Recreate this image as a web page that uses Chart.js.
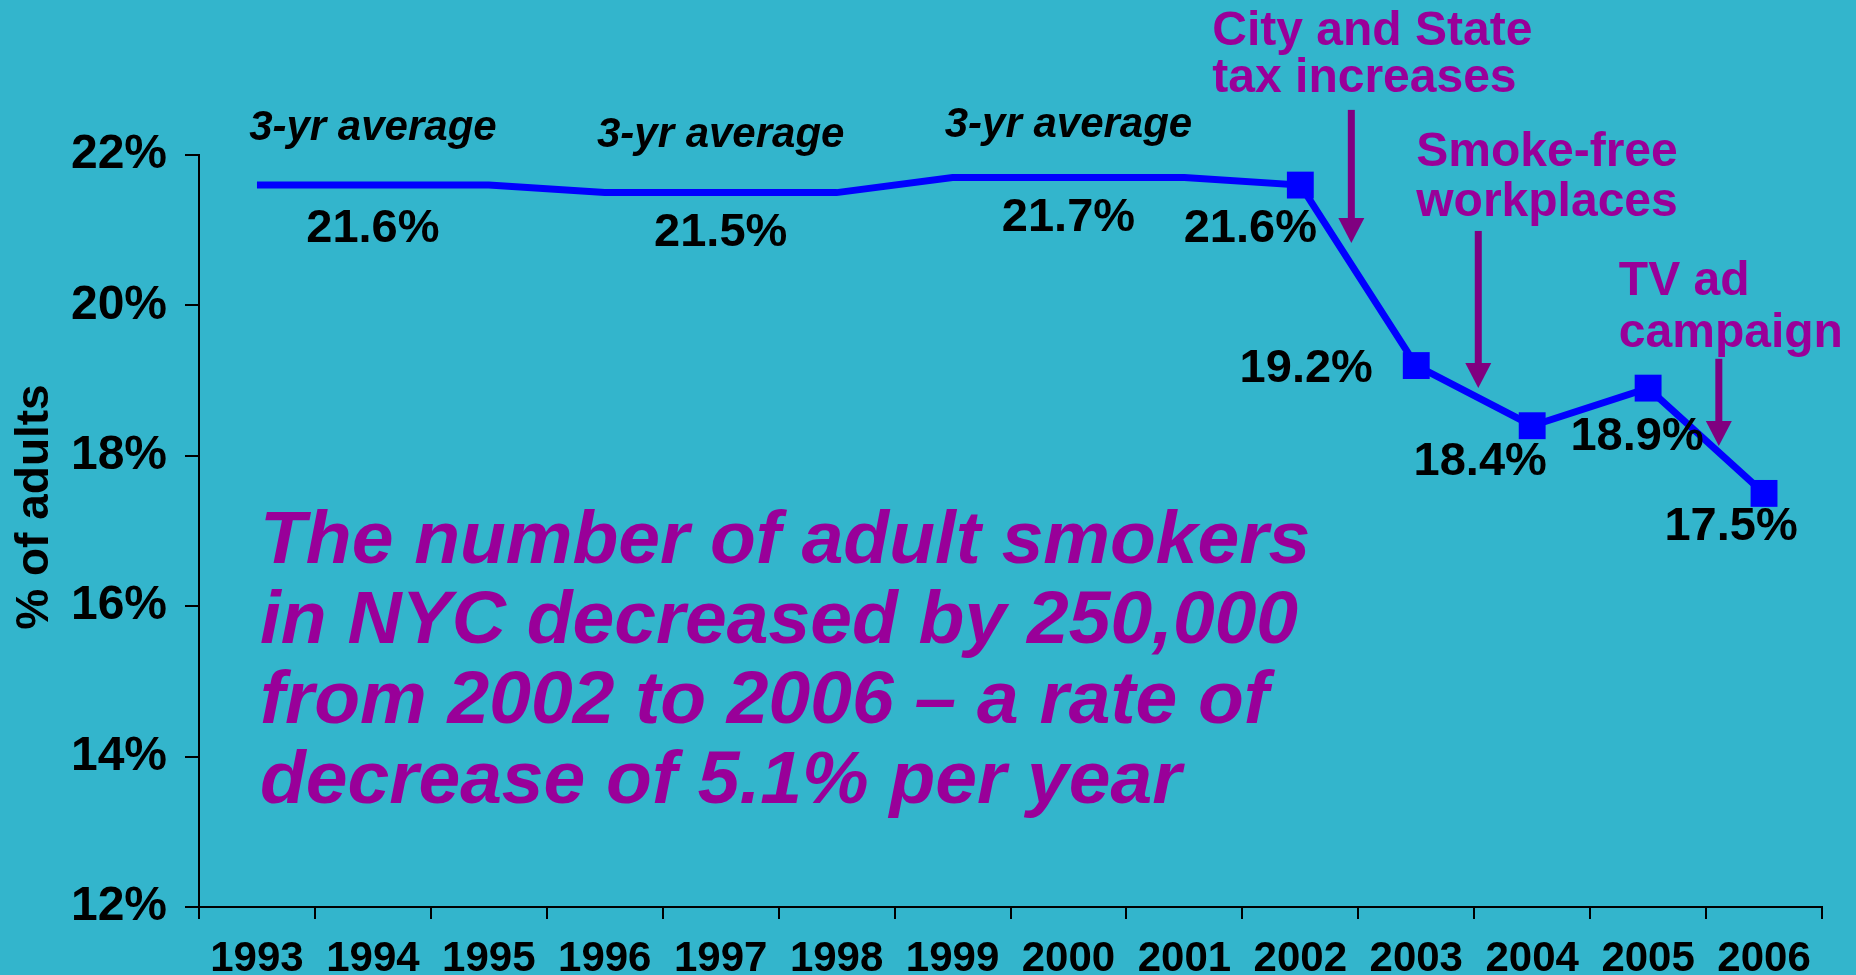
<!DOCTYPE html>
<html>
<head>
<meta charset="utf-8">
<title>Adult smoking in NYC</title>
<script src="https://cdn.jsdelivr.net/npm/chart.js@4.4.1/dist/chart.umd.min.js"></script>
<style>
  html, body { margin: 0; padding: 0; background: #33b5cc; overflow: hidden; }
  #wrap { width: 1856px; height: 975px; }
</style>
</head>
<body>
<div id="wrap"><canvas id="smokingChart" width="1856" height="975"></canvas></div>
<script>
// ---- data ----
const years = ['1993', '1994', '1995', '1996', '1997', '1998', '1999', '2000', '2001', '2002', '2003', '2004', '2005', '2006'];
// 1993-2001 are plotted as 3-yr averages, 2002 onwards as yearly values
const smokingRate = [21.6, 21.6, 21.6, 21.5, 21.5, 21.5, 21.7, 21.7, 21.7, 21.6, 19.2, 18.4, 18.9, 17.5];
const firstAnnualYear = '2002';
const averageLabelYears = ['1994', '1997', '2000'];
const valueLabelYears = ['1994', '1997', '2000', '2002', '2003', '2004', '2005', '2006'];
const yMin = 12, yMax = 22, yStep = 2;
const axisTitle = '% of adults';
const averageCaption = '3-yr average';
const eventYears = ['2002', '2003', '2005'];   // arrow falls after this year
const eventLabels = [['City and State', 'tax increases'], ['Smoke-free', 'workplaces'], ['TV ad', 'campaign']];
const summaryLines = [
  'The number of adult smokers',
  'in NYC decreased by 250,000',
  'from 2002 to 2006 \u2013 a rate of',
  'decrease of 5.1% per year'
];

// ---- layout / style ----
const FONT = '"Liberation Sans", Arial, sans-serif';
const BG = '#33b5cc';
const LINE_BLUE = '#0000ff';
const TEXT_PURPLE = '#990099';
const ARROW_PURPLE = '#800080';
const valueLabelOffsets = [[0, 44], [0, 40], [0, 40], [-50, 44], [-110, 3], [-52, 36], [-11, 49], [-33, 34]];
const captionOffsets = [-57, -57, -52];
// dx: fraction of a year past eventYears, top/tip in % units, text offsets in px from arrow top
const eventArrows = [
  { dx: 0.44, top: 22.6, tip: 20.83, textX: -139, textY: [-65, -18] },
  { dx: 0.535, top: 20.99, tip: 18.9, textX: -62, textY: [-65, -15] },
  { dx: 0.61, top: 19.29, tip: 18.13, textX: -100, textY: [-64, -12] }
];

const firstAnnualIndex = years.indexOf(firstAnnualYear);

const slideDecor = {
  id: 'slideDecor',
  beforeDraw(chart) {
    const ctx = chart.ctx;
    ctx.save();
    ctx.fillStyle = BG;
    ctx.fillRect(0, 0, chart.width, chart.height);
    ctx.restore();
  },
  afterDatasetsDraw(chart) {
    const ctx = chart.ctx;
    const x = chart.scales.x, y = chart.scales.y;
    ctx.save();

    // axis title
    ctx.save();
    ctx.translate(35, 507);
    ctx.rotate(-Math.PI / 2);
    ctx.font = 'bold 46px ' + FONT;
    ctx.fillStyle = '#000';
    ctx.textAlign = 'center';
    ctx.textBaseline = 'middle';
    ctx.fillText(axisTitle, 0, 0);
    ctx.restore();

    // value labels
    ctx.font = 'bold 47px ' + FONT;
    ctx.fillStyle = '#000';
    ctx.textAlign = 'center';
    ctx.textBaseline = 'middle';
    valueLabelYears.forEach((yr, i) => {
      const idx = years.indexOf(yr);
      const px = x.getPixelForValue(idx) + valueLabelOffsets[i][0];
      const py = y.getPixelForValue(smokingRate[idx]) + valueLabelOffsets[i][1];
      ctx.fillText(smokingRate[idx].toFixed(1) + '%', px, py);
    });

    // 3-yr average captions
    ctx.font = 'italic bold 42px ' + FONT;
    averageLabelYears.forEach((yr, i) => {
      const idx = years.indexOf(yr);
      ctx.fillText(averageCaption, x.getPixelForValue(idx), y.getPixelForValue(smokingRate[idx]) + captionOffsets[i]);
    });

    // event arrows + captions
    eventArrows.forEach((a, i) => {
      const ax = x.getPixelForValue(years.indexOf(eventYears[i]) + a.dx);
      const top = y.getPixelForValue(a.top);
      const tip = y.getPixelForValue(a.tip);
      ctx.fillStyle = ARROW_PURPLE;
      ctx.fillRect(ax - 3.5, top, 7, tip - top - 22);
      ctx.beginPath();
      ctx.moveTo(ax - 13, tip - 25);
      ctx.lineTo(ax + 13, tip - 25);
      ctx.lineTo(ax, tip);
      ctx.closePath();
      ctx.fill();

      ctx.fillStyle = TEXT_PURPLE;
      ctx.font = 'bold 48px ' + FONT;
      ctx.textAlign = 'left';
      ctx.textBaseline = 'alphabetic';
      eventLabels[i].forEach((line, j) => ctx.fillText(line, ax + a.textX, top + a.textY[j]));
    });

    // summary text
    ctx.fillStyle = TEXT_PURPLE;
    ctx.font = 'italic bold 75px ' + FONT;
    ctx.textAlign = 'left';
    ctx.textBaseline = 'alphabetic';
    summaryLines.forEach((line, i) => ctx.fillText(line, 260, 563 + i * 80));

    ctx.restore();
  }
};

new Chart(document.getElementById('smokingChart'), {
  type: 'line',
  data: {
    labels: years,
    datasets: [{
      data: smokingRate,
      borderColor: LINE_BLUE,
      backgroundColor: LINE_BLUE,
      borderWidth: 7,
      tension: 0,
      pointStyle: 'rect',
      pointRadius: ctx => ctx.dataIndex >= firstAnnualIndex ? 19 : 0,
      pointHoverRadius: ctx => ctx.dataIndex >= firstAnnualIndex ? 19 : 0,
      pointBorderWidth: 0
    }]
  },
  options: {
    responsive: false,
    animation: false,
    events: [],
    layout: { padding: { top: 155, right: 34, left: 0, bottom: 0 } },
    plugins: { legend: { display: false }, tooltip: { enabled: false } },
    scales: {
      x: {
        offset: true,
        grid: { offset: true, drawOnChartArea: false, tickLength: 12, color: '#000', lineWidth: 2 },
        border: { color: '#000', width: 2 },
        ticks: { color: '#000', padding: 15, maxRotation: 0, autoSkip: false, font: { family: FONT, size: 42, weight: 'bold' } },
        afterFit: s => { s.height = 68; }
      },
      y: {
        min: yMin,
        max: yMax,
        grid: { drawOnChartArea: false, tickLength: 14, color: '#000', lineWidth: 2 },
        border: { color: '#000', width: 2 },
        ticks: { stepSize: yStep, color: '#000', padding: 18, font: { family: FONT, size: 48, weight: 'bold' }, callback: v => v + '%' },
        afterFit: s => { s.width = 199; }
      }
    }
  },
  plugins: [slideDecor]
});
</script>
</body>
</html>
